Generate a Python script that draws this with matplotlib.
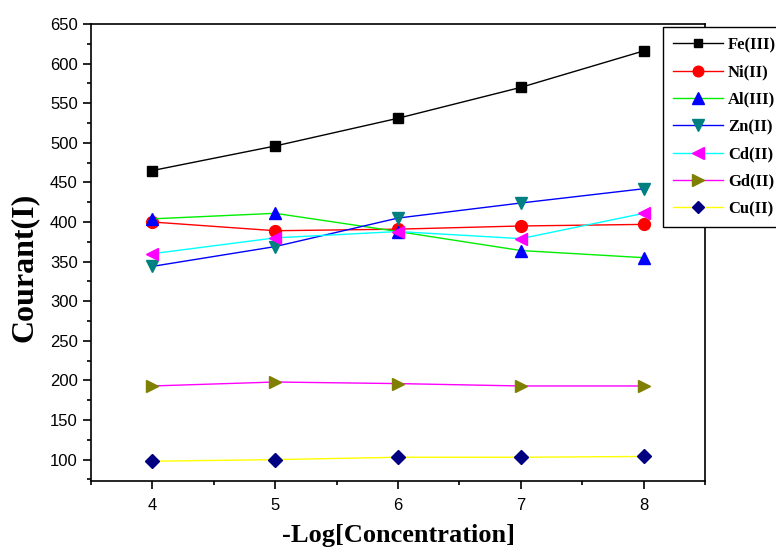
import numpy as np
import matplotlib.pyplot as plt
from matplotlib.ticker import MultipleLocator

# data
conc = [4, 5, 6, 7, 8]
fe = [465, 496, 531, 570, 616]
ni = [400, 389, 391, 395, 397]
al = [404, 411, 388, 364, 355]
zn = [344, 369, 405, 424, 442]
cd = [360, 380, 388, 379, 411]
gd = [193, 198, 196, 193, 193]
cu = [98, 100, 103, 103, 104]

labels = ["Fe(III)", "Ni(II)", "Al(III)", "Zn(II)", "Cd(II)", "Gd(II)", "Cu(II)"]
series = [fe, ni, al, zn, cd, gd, cu]
line_cols = ["black", "red", "#00ee00", "blue", "cyan", "magenta", "yellow"]
mark_cols = ["black", "red", "blue", "teal", "magenta", "olive", "navy"]
markers = ["s", "o", "^", "v", "<", ">", "D"]
msizes = [7, 8.5, 9, 9, 9, 9, 7]

fig = plt.figure(figsize=(7.76, 5.52), dpi=100)
ax = fig.add_axes([0.1173, 0.1286, 0.7912, 0.8279])

for y, lab, lc, mc, m, ms in zip(series, labels, line_cols, mark_cols, markers, msizes):
    ax.plot(conc, y, color=lc, lw=1.0, marker=m, markersize=ms,
            markerfacecolor=mc, markeredgecolor=mc, label=lab)

ax.set_xlim(3.5, 8.5)
ax.set_ylim(73, 650)
ax.xaxis.set_major_locator(MultipleLocator(1))
ax.xaxis.set_minor_locator(MultipleLocator(0.5))
ax.yaxis.set_minor_locator(MultipleLocator(25))
ax.set_yticks(np.arange(100, 651, 50))

for s in ax.spines.values():
    s.set_linewidth(1.2)
ax.tick_params(which="major", direction="out", length=6, width=1.2,
               labelsize=12, top=False, right=False)
ax.tick_params(which="minor", direction="out", length=3, width=1.2,
               top=False, right=False)
ax.tick_params(axis="x", pad=6)
for t in ax.get_xticklabels() + ax.get_yticklabels():
    t.set_fontfamily("Liberation Sans")

ax.set_xlabel("-Log[Concentration]", fontsize=19, fontweight="bold",
              family="Liberation Serif")
ax.set_ylabel("Courant(I)", fontsize=23, fontweight="bold",
              family="Liberation Serif")
ax.xaxis.set_label_coords(0.5, -0.095)
ax.yaxis.set_label_coords(-0.086, 0.468)

leg = fig.legend(loc="upper left", bbox_to_anchor=(663 / 776, 1 - 27 / 552),
                 prop={"family": "Liberation Serif", "weight": "bold", "size": 12},
                 handlelength=3.0, handletextpad=0.3, labelspacing=0.68,
                 borderpad=0.6, borderaxespad=0, fancybox=False,
                 framealpha=1, markerscale=0.9)
leg.get_frame().set_edgecolor("black")
leg.get_frame().set_linewidth(1.0)

fig.savefig("out.png", dpi=100)
